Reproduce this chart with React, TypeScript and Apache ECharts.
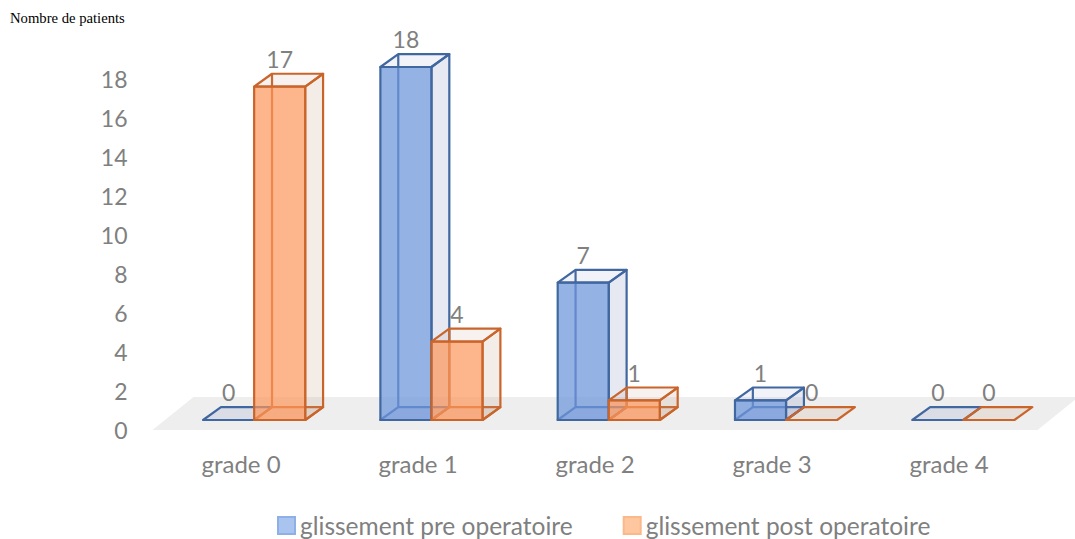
import React, { useEffect, useRef } from "react";
import * as echarts from "echarts";

const categories = ["grade 0", "grade 1", "grade 2", "grade 3", "grade 4"];
const preValues = [0, 18, 7, 1, 0];
const postValues = [17, 4, 1, 0, 0];
const preName = "glissement pre operatoire";
const postName = "glissement post operatoire";
const axisMin = 0;
const axisMax = 18;
const axisStep = 2;
const yTitle = "Nombre de patients";

const FONT = "Lato, 'Noto Sans', sans-serif";
const GREY = "#808080";

type Palette = { stroke: string; front: string; side: string; top: string; plate: string };
const bluePalette: Palette = {
  stroke: "#40679f",
  front: "rgba(110,150,220,0.73)",
  side: "rgba(120,135,185,0.19)",
  top: "rgba(120,135,185,0.10)",
  plate: "rgba(120,135,185,0.17)",
};
const orangePalette: Palette = {
  stroke: "#c9652b",
  front: "rgba(252,150,90,0.70)",
  side: "rgba(190,150,120,0.18)",
  top: "rgba(190,150,120,0.12)",
  plate: "rgba(190,150,120,0.17)",
};

function bar3d(pal: Palette, offsetSign: number) {
  return (params: any, api: any) => {
    const idx = api.value(0);
    const v = api.value(1);
    const slot = api.size([1, 0])[0];
    const w = slot * 0.288;
    const dx = w * 0.35;
    const dy = dx * 0.72;
    const base = api.coord([idx, 0]);
    const topPt = api.coord([idx, v]);
    const x0 = offsetSign < 0 ? base[0] - w : base[0];
    const x1 = x0 + w;
    const yb = base[1];
    const yt = topPt[1];
    const line = { stroke: pal.stroke, lineWidth: 2.2, lineJoin: "round" };
    const poly = (pts: number[][], fill: string) => ({
      type: "polygon",
      shape: { points: pts },
      style: { ...line, fill },
    });
    const children: any[] = [];
    children.push(poly([[x0, yb], [x1, yb], [x1 + dx, yb - dy], [x0 + dx, yb - dy]], pal.plate));
    if (v > 0) {
      children.push({
        type: "line",
        shape: { x1: x0 + dx, y1: yb - dy, x2: x0 + dx, y2: yt - dy },
        style: line,
      });
      children.push(poly([[x1, yb], [x1 + dx, yb - dy], [x1 + dx, yt - dy], [x1, yt]], pal.side));
      children.push(poly([[x0, yt], [x1, yt], [x1 + dx, yt - dy], [x0 + dx, yt - dy]], pal.top));
      children.push(poly([[x0, yb], [x1, yb], [x1, yt], [x0, yt]], pal.front));
    }
    children.push({
      type: "text",
      style: {
        text: String(v),
        x: x0 + w / 2,
        y: yt - dy - 15,
        align: "center",
        verticalAlign: "middle",
        fill: GREY,
        font: `23px ${FONT}`,
      },
    });
    return { type: "group", children };
  };
}

function floor(params: any) {
  const c = params.coordSys;
  const yb = c.y + c.height;
  const dx = 41;
  const dy = 33;
  return {
    type: "polygon",
    shape: {
      points: [
        [c.x, yb],
        [c.x + c.width, yb],
        [c.x + c.width + dx, yb - dy],
        [c.x + dx, yb - dy],
      ],
    },
    style: { fill: "#eeeeee" },
  };
}

const toRows = (vals: number[]) => vals.map((v, i) => [i, v]);

export default function App() {
  const ref = useRef<HTMLDivElement>(null);
  useEffect(() => {
    document.body.style.margin = "0";
    const chart = echarts.init(ref.current!, undefined, { renderer: "svg" });
    chart.setOption({
      animation: false,
      backgroundColor: "#ffffff",
      textStyle: { fontFamily: FONT },
      title: {
        text: yTitle,
        left: 5,
        top: 5,
        textStyle: { fontFamily: "'Liberation Serif', serif", fontSize: 14.67, fontWeight: "normal", color: "#000000" },
      },
      legend: {
        data: [preName, postName],
        left: 272,
        top: 508,
        itemWidth: 17,
        itemHeight: 17,
        itemGap: 50,
        icon: "rect",
        textStyle: { color: GREY, fontSize: 24.5, fontFamily: FONT },
      },
      grid: [
        { left: 152.5, top: 79, width: 885, height: 351 },
        { left: 165.5, top: 67, width: 886.5, height: 353 },
      ],
      xAxis: [
        {
          type: "category",
          gridIndex: 0,
          data: categories,
          axisLine: { show: false },
          axisTick: { show: false },
          axisLabel: { color: GREY, fontSize: 24, margin: 21, fontFamily: FONT },
        },
        { type: "category", gridIndex: 1, data: categories, show: false },
      ],
      yAxis: [
        {
          type: "value",
          gridIndex: 0,
          min: axisMin,
          max: axisMax,
          interval: axisStep,
          axisLine: { show: false },
          axisTick: { show: false },
          splitLine: { show: false },
          axisLabel: { color: GREY, fontSize: 23, margin: 25, fontFamily: FONT },
        },
        { type: "value", gridIndex: 1, min: axisMin, max: axisMax, interval: axisStep, show: false },
      ],
      series: [
        {
          type: "custom",
          name: "floor",
          xAxisIndex: 0,
          yAxisIndex: 0,
          silent: true,
          data: [[0, 0]],
          z: 1,
          renderItem: floor,
        },
        {
          type: "custom",
          name: preName,
          xAxisIndex: 1,
          yAxisIndex: 1,
          data: toRows(preValues),
          encode: { x: 0, y: 1 },
          z: 2,
          itemStyle: { color: "#a9c4ee", borderColor: "#8fb0e6", borderWidth: 1 },
          renderItem: bar3d(bluePalette, -1),
        },
        {
          type: "custom",
          name: postName,
          xAxisIndex: 1,
          yAxisIndex: 1,
          data: toRows(postValues),
          encode: { x: 0, y: 1 },
          z: 3,
          itemStyle: { color: "#fec79f", borderColor: "#fbb98a", borderWidth: 1 },
          renderItem: bar3d(orangePalette, 1),
        },
      ],
    });
    return () => chart.dispose();
  }, []);
  return <div ref={ref} style={{ width: 1075, height: 539 }} />;
}
